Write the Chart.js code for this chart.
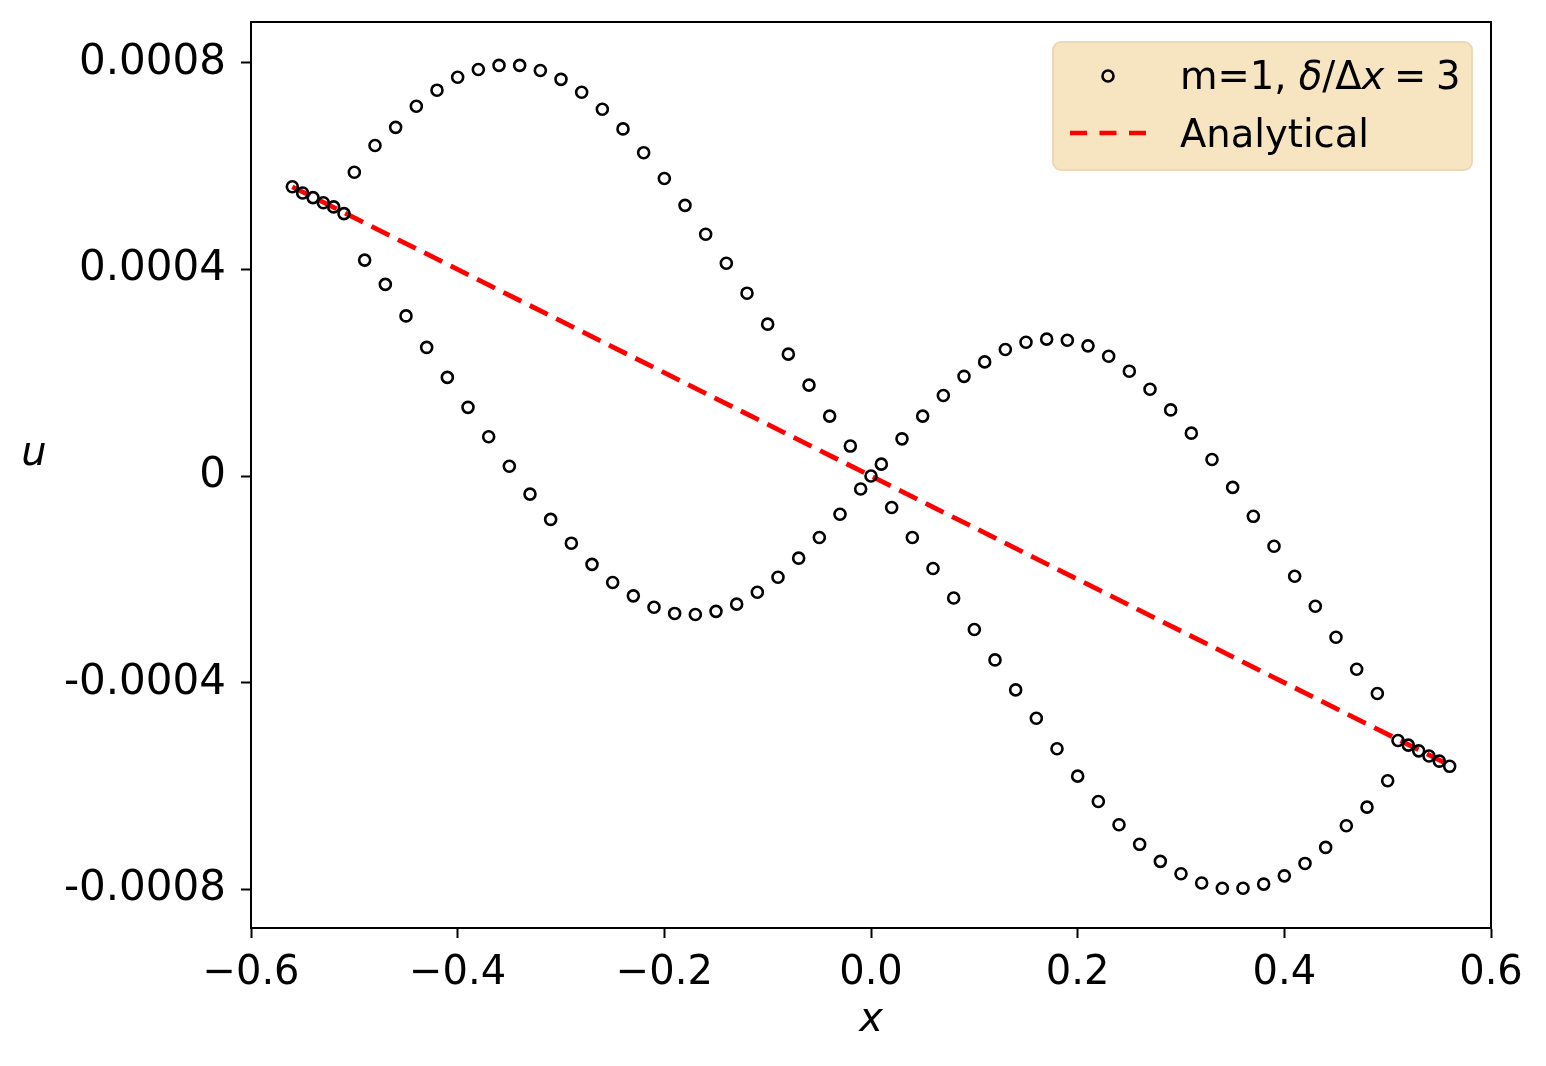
<!DOCTYPE html>
<html>
<head>
<meta charset="utf-8">
<script src="https://cdn.jsdelivr.net/npm/chart.js@4.4.1/dist/chart.umd.min.js"></script>
<style>
  body { margin: 0; background: #fff; }
  #wrap { width: 1546px; height: 1066px; }
</style>
</head>
<body>
<div id="wrap"><canvas id="chart"></canvas></div>
<script>
// numerical solution, m=1, delta/dx = 3
const xVals = [
  -0.56, -0.55, -0.54, -0.53, -0.52, -0.51, -0.50, -0.49, -0.48, -0.47,
  -0.46, -0.45, -0.44, -0.43, -0.42, -0.41, -0.40, -0.39, -0.38, -0.37,
  -0.36, -0.35, -0.34, -0.33, -0.32, -0.31, -0.30, -0.29, -0.28, -0.27,
  -0.26, -0.25, -0.24, -0.23, -0.22, -0.21, -0.20, -0.19, -0.18, -0.17,
  -0.16, -0.15, -0.14, -0.13, -0.12, -0.11, -0.10, -0.09, -0.08, -0.07,
  -0.06, -0.05, -0.04, -0.03, -0.02, -0.01, 0.00, 0.01, 0.02, 0.03,
  0.04, 0.05, 0.06, 0.07, 0.08, 0.09, 0.10, 0.11, 0.12, 0.13,
  0.14, 0.15, 0.16, 0.17, 0.18, 0.19, 0.20, 0.21, 0.22, 0.23,
  0.24, 0.25, 0.26, 0.27, 0.28, 0.29, 0.30, 0.31, 0.32, 0.33,
  0.34, 0.35, 0.36, 0.37, 0.38, 0.39, 0.40, 0.41, 0.42, 0.43,
  0.44, 0.45, 0.46, 0.47, 0.48, 0.49, 0.50, 0.51, 0.52, 0.53,
  0.54, 0.55, 0.56
];
const uVals = [
  5.60e-4, 5.48e-4, 5.39e-4, 5.29e-4, 5.21e-4, 5.08e-4, 5.88e-4, 4.18e-4, 6.40e-4, 3.71e-4,
  6.75e-4, 3.10e-4, 7.16e-4, 2.49e-4, 7.47e-4, 1.91e-4, 7.72e-4, 1.33e-4, 7.87e-4, 0.76e-4,
  7.95e-4, 0.19e-4, 7.95e-4, -0.35e-4, 7.85e-4, -0.84e-4, 7.68e-4, -1.30e-4, 7.43e-4, -1.71e-4,
  7.10e-4, -2.06e-4, 6.72e-4, -2.32e-4, 6.26e-4, -2.54e-4, 5.76e-4, -2.66e-4, 5.24e-4, -2.68e-4,
  4.68e-4, -2.62e-4, 4.12e-4, -2.48e-4, 3.54e-4, -2.25e-4, 2.94e-4, -1.96e-4, 2.36e-4, -1.59e-4,
  1.76e-4, -1.19e-4, 1.16e-4, -0.74e-4, 0.58e-4, -0.25e-4, 0.00e-4, 0.23e-4, -0.61e-4, 0.72e-4,
  -1.19e-4, 1.16e-4, -1.79e-4, 1.56e-4, -2.36e-4, 1.93e-4, -2.97e-4, 2.21e-4, -3.56e-4, 2.45e-4,
  -4.14e-4, 2.59e-4, -4.69e-4, 2.65e-4, -5.28e-4, 2.63e-4, -5.81e-4, 2.52e-4, -6.30e-4, 2.32e-4,
  -6.75e-4, 2.03e-4, -7.13e-4, 1.68e-4, -7.46e-4, 1.28e-4, -7.70e-4, 0.83e-4, -7.88e-4, 0.32e-4,
  -7.98e-4, -0.22e-4, -7.98e-4, -0.78e-4, -7.90e-4, -1.36e-4, -7.74e-4, -1.94e-4, -7.50e-4, -2.52e-4,
  -7.19e-4, -3.12e-4, -6.77e-4, -3.74e-4, -6.41e-4, -4.21e-4, -5.90e-4, -5.12e-4, -5.21e-4, -5.32e-4,
  -5.42e-4, -5.52e-4, -5.62e-4
];

// analytical solution (straight line)
const analyticX = [-0.56, 0.56];
const analyticU = [5.6e-4, -5.6e-4];

const xTicks = [-0.6, -0.4, -0.2, 0.0, 0.2, 0.4, 0.6];
const xTickLabels = ['\u22120.6', '\u22120.4', '\u22120.2', '0.0', '0.2', '0.4', '0.6'];
const uTicks = [-0.0008, -0.0004, 0, 0.0004, 0.0008];
const uTickLabels = ['-0.0008', '-0.0004', '0', '0.0004', '0.0008'];

const FONT = "'DejaVu Sans', sans-serif";

// frame, axis titles and legend the matplotlib way
const decorations = {
  id: 'decorations',
  afterDraw(chart) {
    const ctx = chart.ctx;
    const a = chart.chartArea;
    ctx.save();

    ctx.strokeStyle = '#000';
    ctx.lineWidth = 2;
    ctx.strokeRect(a.left, a.top, a.right - a.left, a.bottom - a.top);

    ctx.fillStyle = '#000';
    ctx.textAlign = 'center';
    ctx.textBaseline = 'middle';
    ctx.font = 'italic 40px ' + FONT;
    ctx.fillText('x', (a.left + a.right) / 2, 1021);
    ctx.fillText('u', 34, 455);

    // legend box
    const bx = 1053, by = 42, bw = 419, bh = 128, r = 8;
    ctx.beginPath();
    ctx.moveTo(bx + r, by);
    ctx.arcTo(bx + bw, by, bx + bw, by + bh, r);
    ctx.arcTo(bx + bw, by + bh, bx, by + bh, r);
    ctx.arcTo(bx, by + bh, bx, by, r);
    ctx.arcTo(bx, by, bx + bw, by, r);
    ctx.closePath();
    ctx.fillStyle = 'rgba(245, 222, 179, 0.8)';
    ctx.fill();
    ctx.strokeStyle = 'rgba(236, 216, 182, 1)';
    ctx.lineWidth = 2;
    ctx.stroke();

    // marker handle
    ctx.beginPath();
    ctx.arc(1108, 76, 5.5, 0, Math.PI * 2);
    ctx.strokeStyle = '#000';
    ctx.lineWidth = 2.6;
    ctx.stroke();

    // dashed handle
    ctx.beginPath();
    ctx.setLineDash([17, 12.5]);
    ctx.moveTo(1070, 133);
    ctx.lineTo(1147, 133);
    ctx.strokeStyle = '#ff0000';
    ctx.lineWidth = 4.5;
    ctx.stroke();
    ctx.setLineDash([]);

    // label text
    ctx.fillStyle = '#000';
    ctx.textAlign = 'left';
    ctx.textBaseline = 'alphabetic';
    const parts = [
      ['m=1, ', ''], ['\u03b4', 'italic '], ['/\u0394', ''], ['x', 'italic '], ['\u2005=\u20053', '']
    ];
    let tx = 1180;
    parts.forEach(([t, st]) => {
      ctx.font = st + '38.5px ' + FONT;
      ctx.fillText(t, tx, 89);
      tx += ctx.measureText(t).width;
    });
    ctx.font = '38.5px ' + FONT;
    ctx.fillText('Analytical', 1180, 147);

    ctx.restore();
  }
};

new Chart(document.getElementById('chart'), {
  type: 'scatter',
  data: {
    datasets: [
      {
        label: 'm=1, \u03b4/\u0394x = 3',
        data: xVals.map((x, i) => ({ x: x, y: uVals[i] })),
        showLine: false,
        pointRadius: 5.5,
        pointBorderWidth: 2.6,
        pointBorderColor: '#000',
        pointBackgroundColor: 'rgba(0,0,0,0)',
        order: 0
      },
      {
        label: 'Analytical',
        data: analyticX.map((x, i) => ({ x: x, y: analyticU[i] })),
        showLine: true,
        borderColor: '#ff0000',
        borderWidth: 4.8,
        borderDash: [20, 9.5],
        pointRadius: 0,
        fill: false,
        order: 1
      }
    ]
  },
  options: {
    responsive: true,
    maintainAspectRatio: false,
    animation: false,
    layout: { padding: { left: 0, right: 55, top: 22, bottom: 0 } },
    plugins: {
      legend: { display: false },
      tooltip: { enabled: false }
    },
    scales: {
      x: {
        type: 'linear',
        min: -0.6,
        max: 0.6,
        afterBuildTicks: (s) => { s.ticks = xTicks.map(v => ({ value: v })); },
        afterFit: (s) => { s.height = 138; s.paddingLeft = 0; s.paddingRight = 0; },
        ticks: {
          autoSkip: false,
          maxRotation: 0,
          padding: 12,
          color: '#000',
          font: { family: FONT, size: 40 },
          callback: (v, i) => xTickLabels[i]
        },
        grid: { drawOnChartArea: false, drawTicks: true, tickLength: 10, tickColor: '#000', tickWidth: 2 },
        border: { display: true, color: '#000', width: 2 }
      },
      y: {
        type: 'linear',
        min: -0.000875,
        max: 0.000879,
        afterBuildTicks: (s) => { s.ticks = uTicks.map(v => ({ value: v })); },
        afterFit: (s) => { s.width = 251; s.paddingTop = 0; s.paddingBottom = 0; },
        ticks: {
          autoSkip: false,
          padding: 15,
          color: '#000',
          font: { family: FONT, size: 42 },
          callback: (v, i) => uTickLabels[i]
        },
        grid: { drawOnChartArea: false, drawTicks: true, tickLength: 10, tickColor: '#000', tickWidth: 2 },
        border: { display: true, color: '#000', width: 2 }
      }
    }
  },
  plugins: [decorations]
});
</script>
</body>
</html>
